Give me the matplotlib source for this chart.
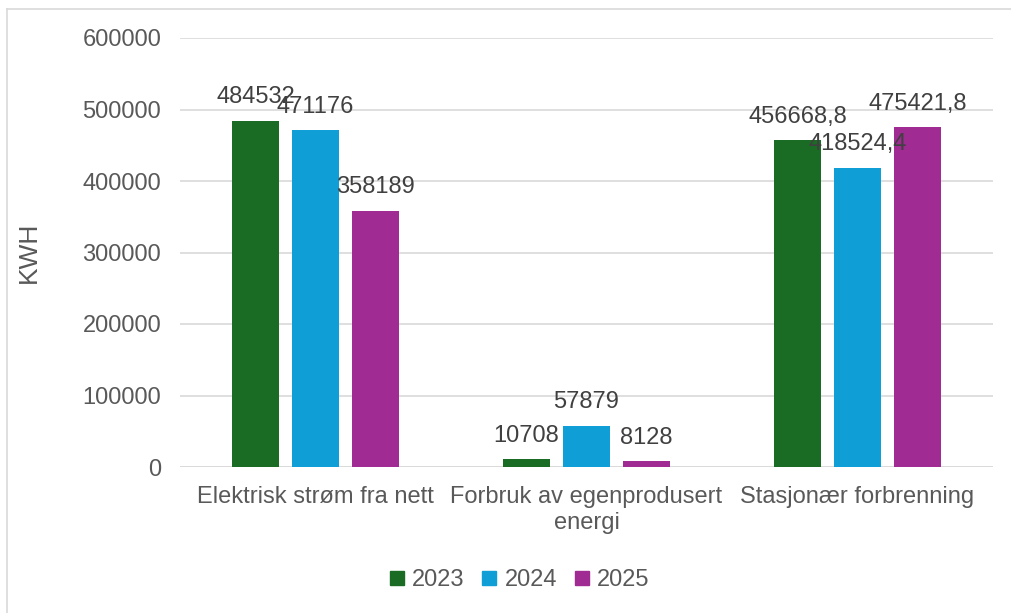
import matplotlib
matplotlib.use('Agg')
import matplotlib.pyplot as plt
import numpy as np
from matplotlib.lines import Line2D

categories = ['Elektrisk strøm fra nett', 'Forbruk av egenprodusert\nenergi', 'Stasjonær forbrenning']
years = ['2023', '2024', '2025']
v2023 = [484532, 10708, 456668.8]
v2024 = [471176, 57879, 418524.4]
v2025 = [358189, 8128, 475421.8]
yticks = [0, 100000, 200000, 300000, 400000, 500000, 600000]

colors = ['#1a6b24', '#0f9ed5', '#a02b93']
txt = '#595959'

plt.rcParams['font.family'] = ['Liberation Sans', 'DejaVu Sans']

fig = plt.figure(figsize=(10.11, 6.13), dpi=100)
ax = fig.add_axes([180 / 1011, 1 - 467 / 613, (993 - 180) / 1011, (467 - 38) / 613])

x = np.arange(len(categories))
w = 0.173
off = 0.221

def fmt(v):
    s = repr(float(v))
    if s.endswith('.0'):
        s = s[:-2]
    return s.replace('.', ',')

for i, (vals, c, yr) in enumerate(zip([v2023, v2024, v2025], colors, years)):
    bars = ax.bar(x + (i - 1) * off, vals, w, color=c, label=yr, zorder=3)
    for b, v in zip(bars, vals):
        ax.annotate(fmt(v), (b.get_x() + b.get_width() / 2, v),
                    xytext=(0, 9), textcoords='offset points',
                    ha='center', va='bottom', fontsize=17, color='#404040', zorder=4)

ax.set_xlim(-0.5, 2.5)
ax.set_ylim(0, 600000)
ax.set_yticks(yticks)
ax.set_yticklabels([str(t) for t in yticks], fontsize=17, color=txt)
ax.set_xticks(x)
ax.set_xticklabels(categories, fontsize=17, color=txt)
ax.tick_params(axis='y', length=0, pad=13.5)
ax.tick_params(axis='x', length=0, pad=14)
ax.yaxis.grid(True, color='#d9d9d9', linewidth=1.2, zorder=0)
for s in ax.spines.values():
    s.set_visible(False)
ax.axhline(0, color='#d9d9d9', linewidth=1.2, zorder=2)
ax.set_ylabel('KWH', fontsize=19, color=txt, labelpad=30)

handles = [Line2D([], [], marker='s', linestyle='none', markersize=10,
                  markerfacecolor=c, markeredgecolor=c) for c in colors]
fig.legend(handles, years, loc='center', bbox_to_anchor=(519 / 1011, 1 - 580 / 613),
           ncol=3, frameon=False, fontsize=17, labelcolor=txt,
           handlelength=0.7, handletextpad=0.3, columnspacing=0.7)

# chart border
fig.add_artist(Line2D([7 / 1011, 7 / 1011], [0, 1 - 9 / 613], color='#d9d9d9', linewidth=1.2))
fig.add_artist(Line2D([7 / 1011, 1], [1 - 9 / 613, 1 - 9 / 613], color='#d9d9d9', linewidth=1.2))

fig.savefig('out.png', dpi=100, facecolor='white')
